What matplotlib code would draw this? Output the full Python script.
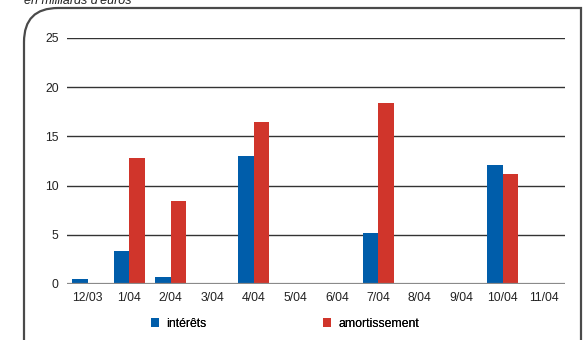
import numpy as np
import matplotlib.pyplot as plt
from matplotlib.path import Path
from matplotlib.patches import PathPatch

plt.rcParams['font.family'] = ['Liberation Sans Narrow', 'Liberation Sans', 'DejaVu Sans']

mois = ['12/03', '1/04', '2/04', '3/04', '4/04', '5/04', '6/04',
        '7/04', '8/04', '9/04', '10/04', '11/04']
interets = [0.55, 3.4, 0.7, 0, 13.0, 0, 0, 5.2, 0, 0, 12.1, 0]
amortissement = [0, 12.8, 8.4, 0, 16.5, 0, 0, 18.4, 0, 0, 11.2, 0]

bleu = '#005DAA'
rouge = '#D0352B'

fig = plt.figure(figsize=(5.85, 3.4), dpi=100)
ax = fig.add_axes([67/585, 1-284/340, (565-67)/585, (284-38)/340])

x = np.arange(len(mois))
w = 0.37
b1 = ax.bar(x - w/2, interets, width=w, color=bleu, label='intérêts', zorder=3)
b2 = ax.bar(x + w/2, amortissement, width=w, color=rouge, label='amortissement', zorder=3)

ax.set_xlim(-0.5, len(mois) - 0.5)
ax.set_ylim(0, 25)
ax.set_yticks([0, 5, 10, 15, 20, 25])
ax.set_xticks(x)
ax.set_xticklabels(mois)
ax.tick_params(axis='both', length=0, labelsize=8.8, colors='#222222')
ax.tick_params(axis='y', pad=6)
ax.tick_params(axis='x', pad=6)
for s in ax.spines.values():
    s.set_visible(False)
ax.yaxis.grid(True, color='#333333', linewidth=1.0, zorder=1)
ax.axhline(0, color='#8a8a8a', linewidth=1.6, zorder=4)

# one legend entry per series, placed separately
for bars, lab, px in [(b1, 'intérêts', 147), (b2, 'amortissement', 319)]:
    lg = fig.legend([bars], [lab], loc='center left',
                    bbox_to_anchor=(px/585, 1-324/340), frameon=False,
                    fontsize=8.8, handlelength=0.7, handleheight=0.7,
                    handletextpad=0.6, borderpad=0, borderaxespad=0.3)
    fig.add_artist(lg)

# frame with rounded top-left corner, in pixel coordinates
ov = fig.add_axes([0, 0, 1, 1], zorder=-1)
ov.set_xlim(0, 585)
ov.set_ylim(340, 0)
ov.axis('off')
R = 34
L, T, Rt = 24, 8, 581
verts = [(L, 345), (L, T + R), (L, T), (L + R, T), (Rt, T), (Rt, 345)]
codes = [Path.MOVETO, Path.LINETO, Path.CURVE3, Path.CURVE3, Path.LINETO, Path.LINETO]
ov.add_patch(PathPatch(Path(verts, codes), fill=False, edgecolor='#4a4a4a', linewidth=1.6))

fig.text(24/585, 1-1.5/340, "en milliards d'euros", fontsize=9, style='italic',
         color='#222222', ha='left', va='center')

fig.savefig('out.png', dpi=100)
